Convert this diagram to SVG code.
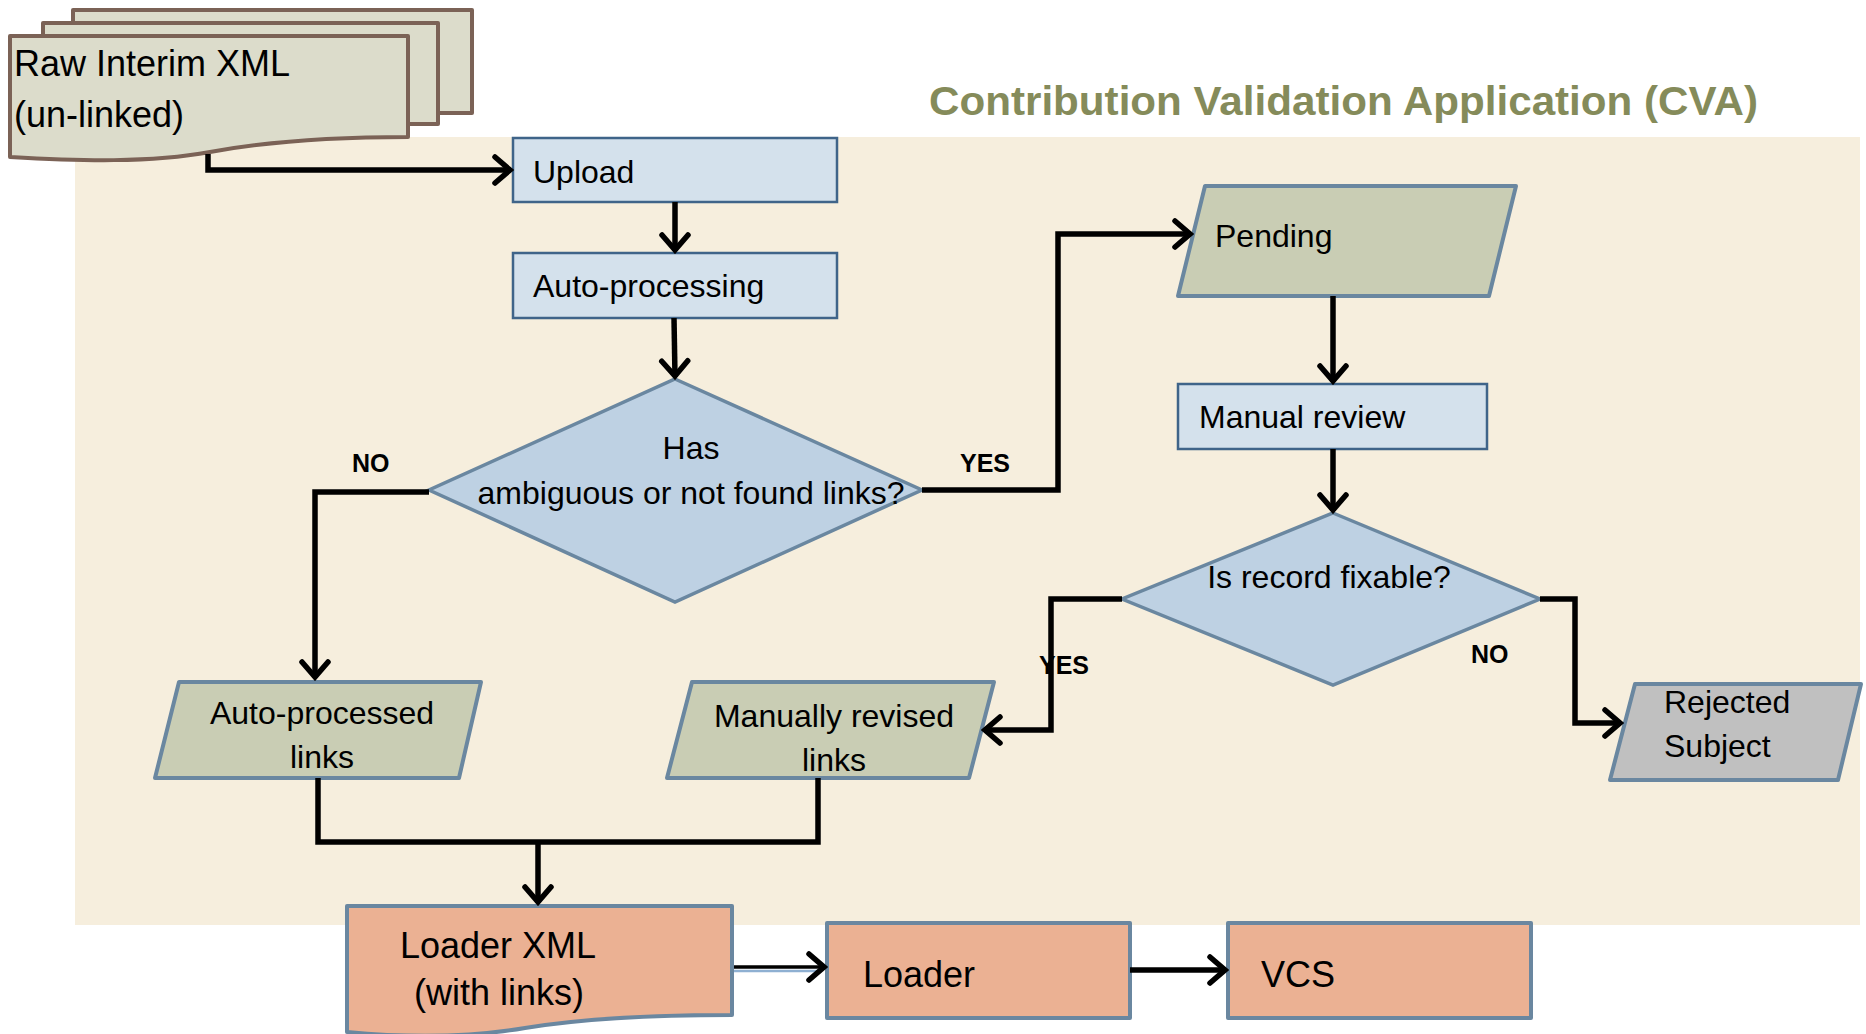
<svg xmlns="http://www.w3.org/2000/svg" width="1866" height="1034" viewBox="0 0 1866 1034">
<defs>
<marker id="arr" viewBox="-20 -17 24 34" refX="1" refY="0" markerWidth="24" markerHeight="34" markerUnits="userSpaceOnUse" orient="auto">
<path d="M-15,-13 L0,0 L-15,13" fill="none" stroke="#000" stroke-width="5.5" stroke-linecap="round" stroke-linejoin="miter"/>
</marker>
</defs>
<style>
text{font-family:"Liberation Sans",Arial,sans-serif;fill:#000;}
.t{font-size:32px;}
.tb{font-size:36px;}
.lab{font-size:25px;font-weight:bold;}
.box{fill:#d4e1ec;stroke:#3f6489;stroke-width:2.5;}
.dia{fill:#bed1e3;stroke:#6a87a0;stroke-width:3.5;}
.par{fill:#c9cdb4;stroke:#6a87a0;stroke-width:4;stroke-linejoin:round;}
.rej{fill:#c0c0c0;stroke:#6a87a0;stroke-width:4;stroke-linejoin:round;}
.org{fill:#ebb193;stroke:#6a87a0;stroke-width:4;stroke-linejoin:round;}
.doc{fill:#dcdccb;stroke:#7b6256;stroke-width:4;stroke-linejoin:round;}
.c{fill:none;stroke:#000;stroke-width:5.5;stroke-linejoin:miter;}
</style>
<rect x="75" y="137" width="1785" height="788" fill="#f6eedd"/>
<text x="929" y="115" textLength="829" lengthAdjust="spacingAndGlyphs" style="font-size:41px;font-weight:bold;fill:#858b5a;">Contribution Validation Application (CVA)</text>

<g id="raw-xml">
<rect class="doc" x="73" y="10" width="399" height="103"/>
<rect class="doc" x="43" y="23" width="395" height="101"/>
<path class="doc" d="M10,36 H408 V137 C330,137 270,141 210,152 C150,163 80,161 10,157 Z"/>
<text class="tb" x="14" y="76">Raw Interim XML</text>
<text class="tb" x="14" y="127">(un-linked)</text>
</g>

<g id="upload">
<rect class="box" x="513" y="138" width="324" height="64"/>
<text class="t" x="533" y="183">Upload</text>
</g>
<g id="auto-processing">
<rect class="box" x="513" y="253" width="324" height="65"/>
<text class="t" x="533" y="297">Auto-processing</text>
</g>
<g id="has-links">
<polygon class="dia" points="675,379 922,490 675,602 429,490"/>
<text class="t" x="691" y="459" text-anchor="middle">Has</text>
<text class="t" x="691" y="504" text-anchor="middle">ambiguous or not found links?</text>
</g>
<g id="pending">
<polygon class="par" points="1205,186 1516,186 1489,296 1178,296"/>
<text class="t" x="1215" y="247">Pending</text>
</g>
<g id="manual-review">
<rect class="box" x="1178" y="384" width="309" height="65"/>
<text class="t" x="1199" y="428">Manual review</text>
</g>
<g id="fixable">
<polygon class="dia" points="1333,513 1540,599 1333,685 1122,599"/>
<text class="t" x="1329" y="588" text-anchor="middle">Is record fixable?</text>
</g>
<g id="auto-processed">
<polygon class="par" points="179,682 481,682 459,778 155,778"/>
<text class="t" x="322" y="724" text-anchor="middle">Auto-processed</text>
<text class="t" x="322" y="768" text-anchor="middle">links</text>
</g>
<g id="manually-revised">
<polygon class="par" points="692,682 994,682 969,778 667,778"/>
<text class="t" x="834" y="727" text-anchor="middle">Manually revised</text>
<text class="t" x="834" y="771" text-anchor="middle">links</text>
</g>
<g id="rejected">
<polygon class="rej" points="1635,684 1861,684 1838,780 1610,780"/>
<text class="t" x="1664" y="713">Rejected</text>
<text class="t" x="1664" y="757">Subject</text>
</g>
<g id="loader-xml">
<path class="org" d="M347,906 H732 V1015 C650,1015 580,1019 525,1028 C460,1039 400,1037 347,1032 Z"/>
<text class="tb" x="400" y="958">Loader XML</text>
<text class="tb" x="414" y="1005">(with links)</text>
</g>
<g id="loader">
<rect class="org" x="827" y="923" width="303" height="95"/>
<text class="tb" x="863" y="987">Loader</text>
</g>
<g id="vcs">
<rect class="org" x="1228" y="923" width="303" height="95"/>
<text class="tb" x="1261" y="987">VCS</text>
</g>

<g id="connectors">
<path class="c" d="M208,154 V170 H511" marker-end="url(#arr)"/>
<path class="c" d="M675,202 L675,251" marker-end="url(#arr)"/>
<path class="c" d="M674,318 L675,377" marker-end="url(#arr)"/>
<path class="c" d="M429,492 H315 V678" marker-end="url(#arr)"/>
<path class="c" d="M922,490 H1058 V234 H1191" marker-end="url(#arr)"/>
<path class="c" d="M1333,296 V382" marker-end="url(#arr)"/>
<path class="c" d="M1333,449 V511" marker-end="url(#arr)"/>
<path class="c" d="M1122,599 H1051 V730 H984" marker-end="url(#arr)"/>
<path class="c" d="M1540,599 H1575 V723 H1621" marker-end="url(#arr)"/>
<path class="c" d="M318,778 V842 H818 V778"/>
<path class="c" d="M538,842 V903" marker-end="url(#arr)"/>
<path d="M734,971 H822" fill="none" stroke="#8fb0d2" stroke-width="2.5"/>
<path class="c" d="M734,967 H825" style="stroke-width:3.5" marker-end="url(#arr)"/>
<path class="c" d="M1130,970 H1226" marker-end="url(#arr)"/>
<text class="lab" x="352" y="472">NO</text>
<text class="lab" x="960" y="472">YES</text>
<text class="lab" x="1039" y="674">YES</text>
<text class="lab" x="1471" y="663">NO</text>
</g>
</svg>
